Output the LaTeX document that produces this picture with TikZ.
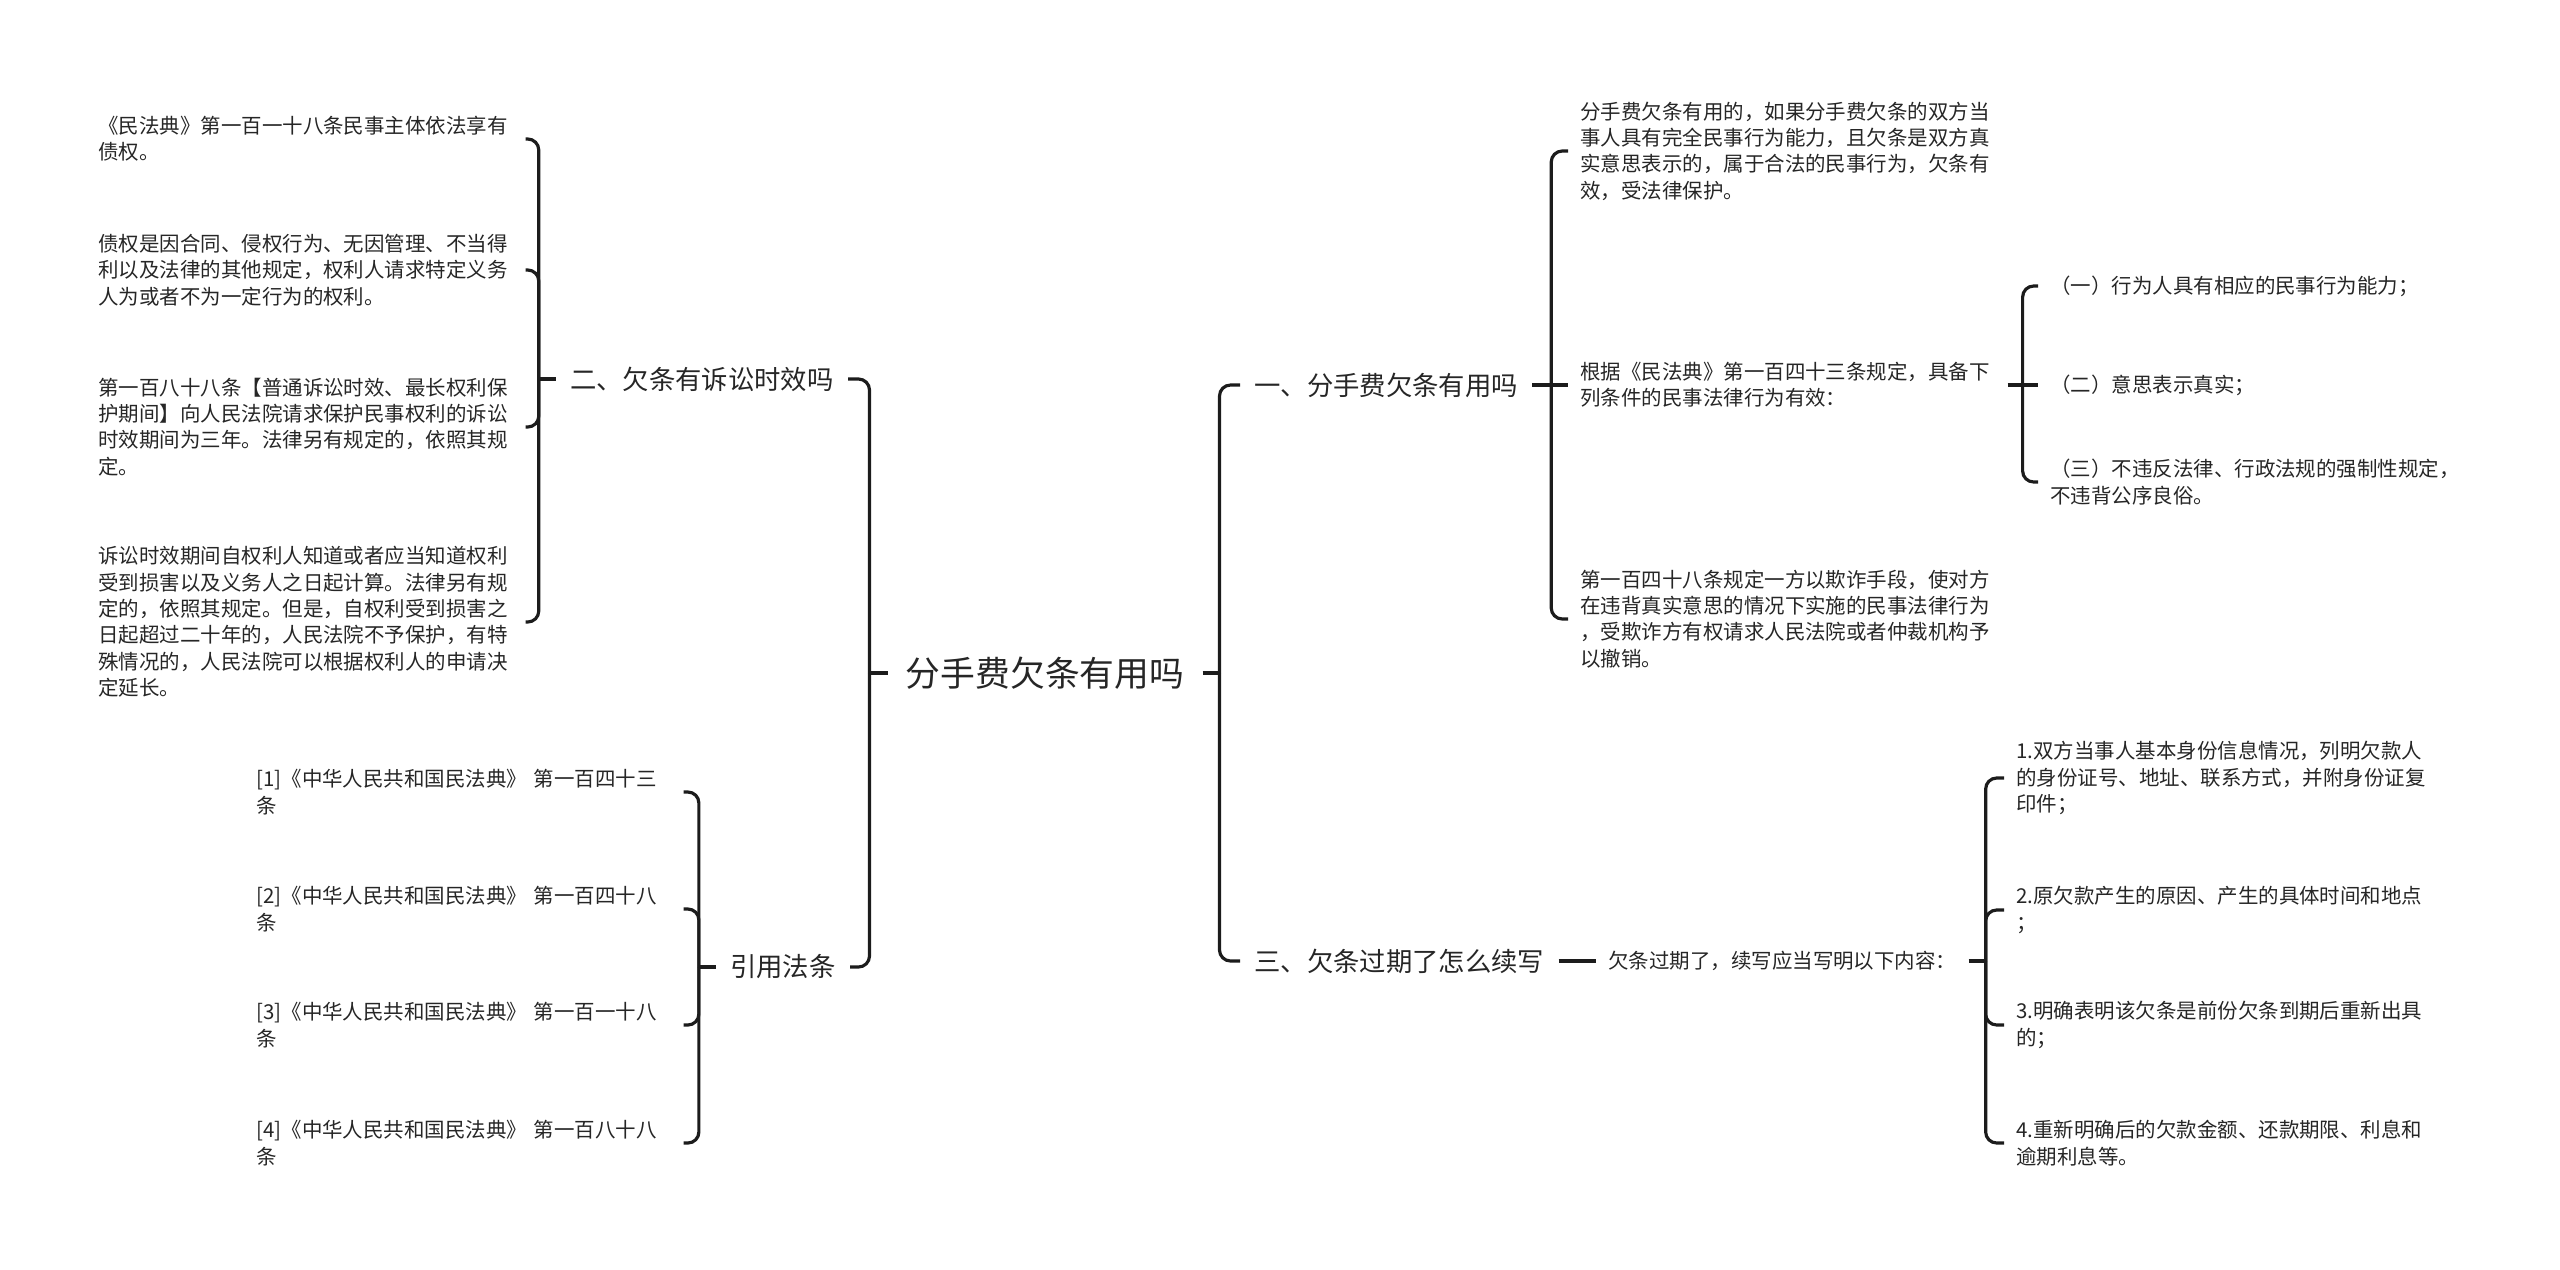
\documentclass[tikz,border=0pt]{standalone}
\usepackage{fontspec}
\setmainfont{Noto Sans CJK SC}
\usepackage{tikz}
\definecolor{inkline}{RGB}{28,28,28}
\definecolor{inktext}{RGB}{38,38,38}
\tikzset{rootn/.style={text=inktext,font=\fontsize{19.8pt}{24pt}\selectfont,inner xsep=0.36cm,inner ysep=4pt},branch/.style={text=inktext,font=\fontsize{15pt}{18pt}\selectfont,inner xsep=0.28cm,inner ysep=3pt},leaf/.style={text=inktext,font=\fontsize{11.65pt}{15pt}\selectfont,inner xsep=0.24cm,inner ysep=2pt,align=left,anchor=west},para/.style={leaf,text width=8.3cm},link/.style={draw=inkline,line width=1.8pt,rounded corners=0.22cm}}
\begin{document}
\begin{tikzpicture}[x=0.02cm,y=-0.02cm]
\useasboundingbox (0,0) rectangle (2560,1269);
\node[rootn] (root) at (1045,673) {分手费欠条有用吗};
\node[branch,anchor=east] (sx) at (848,379) {二、欠条有诉讼时效吗};
\node[branch,anchor=east] (cite) at (850,967) {引用法条};
\node[branch,anchor=west] (yi) at (1240,385) {一、分手费欠条有用吗};
\node[branch,anchor=west] (san) at (1240,961) {三、欠条过期了怎么续写};
\node[para] (sx1) at (86,139) {《民法典》第一百一十八条民事主体依法享有\\债权。};
\node[para] (sx2) at (86,270) {债权是因合同、侵权行为、无因管理、不当得\\利以及法律的其他规定，权利人请求特定义务\\人为或者不为一定行为的权利。};
\node[para] (sx3) at (86,427) {第一百八十八条【普通诉讼时效、最长权利保\\护期间】向人民法院请求保护民事权利的诉讼\\时效期间为三年。法律另有规定的，依照其规\\定。};
\node[para] (sx4) at (86,622) {诉讼时效期间自权利人知道或者应当知道权利\\受到损害以及义务人之日起计算。法律另有规\\定的，依照其规定。但是，自权利受到损害之\\日起超过二十年的，人民法院不予保护，有特\\殊情况的，人民法院可以根据权利人的申请决\\定延长。};
\node[para] (ct1) at (244,792) {[1]《中华人民共和国民法典》~第一百四十三\\条};
\node[para] (ct2) at (244,909) {[2]《中华人民共和国民法典》~第一百四十八\\条};
\node[para] (ct3) at (244,1025) {[3]《中华人民共和国民法典》~第一百一十八\\条};
\node[para] (ct4) at (244,1143) {[4]《中华人民共和国民法典》~第一百八十八\\条};
\node[para] (a1) at (1568,151) {分手费欠条有用的，如果分手费欠条的双方当\\事人具有完全民事行为能力，且欠条是双方真\\实意思表示的，属于合法的民事行为，欠条有\\效，受法律保护。};
\node[para] (a2) at (1568,385) {根据《民法典》第一百四十三条规定，具备下\\列条件的民事法律行为有效：};
\node[para] (a3) at (1568,619) {第一百四十八条规定一方以欺诈手段，使对方\\在违背真实意思的情况下实施的民事法律行为\\，受欺诈方有权请求人民法院或者仲裁机构予\\以撤销。};
\node[para] (b1) at (2038,286) {（一）行为人具有相应的民事行为能力；};
\node[para] (b2) at (2038,385) {（二）意思表示真实；};
\node[para] (b3) at (2038,482) {（三）不违反法律、行政法规的强制性规定，\\不违背公序良俗。};
\node[leaf] (ask) at (1596,961) {欠条过期了，续写应当写明以下内容：};
\node[para] (d1) at (2004,778) {1.双方当事人基本身份信息情况，列明欠款人\\的身份证号、地址、联系方式，并附身份证复\\印件；};
\node[para] (d2) at (2004,910) {2.原欠款产生的原因、产生的具体时间和地点\\；};
\node[para] (d3) at (2004,1025) {3.明确表明该欠条是前份欠条到期后重新出具\\的；};
\node[para] (d4) at (2004,1143) {4.重新明确后的欠款金额、还款期限、利息和\\逾期利息等。};
\draw[link] (root.west)--++(-18,0) coordinate (fl);\draw[link] (fl)|-(sx.east);\draw[link] (fl)|-(cite.east);
\draw[link] (root.east)--++(17,0) coordinate (fr);\draw[link] (fr)|-(yi.west);\draw[link] (fr)|-(san.west);
\draw[link] (sx.west)--++(-17,0) coordinate (fsx);
\draw[link] (fsx)|-(sx1.east);\draw[link] (fsx)|-(sx2.east);\draw[link] (fsx)|-(sx3.east);\draw[link] (fsx)|-(sx4.east);
\draw[link] (cite.west)--++(-17,0) coordinate (fct);
\draw[link] (fct)|-(ct1.east);\draw[link] (fct)|-(ct2.east);\draw[link] (fct)|-(ct3.east);\draw[link] (fct)|-(ct4.east);
\draw[link] (yi.east)--++(19,0) coordinate (fyi);
\draw[link] (fyi)|-(a1.west);\draw[link] (fyi)--(a2.west);\draw[link] (fyi)|-(a3.west);
\draw[link] (a2.east)--++(15,0) coordinate (fa2);
\draw[link] (fa2)|-(b1.west);\draw[link] (fa2)--(b2.west);\draw[link] (fa2)|-(b3.west);
\draw[link] (san.east)--(ask.west);
\draw[link] (ask.east)--++(17,0) coordinate (fask);
\draw[link] (fask)|-(d1.west);\draw[link] (fask)|-(d2.west);\draw[link] (fask)|-(d3.west);\draw[link] (fask)|-(d4.west);
\end{tikzpicture}
\end{document}
